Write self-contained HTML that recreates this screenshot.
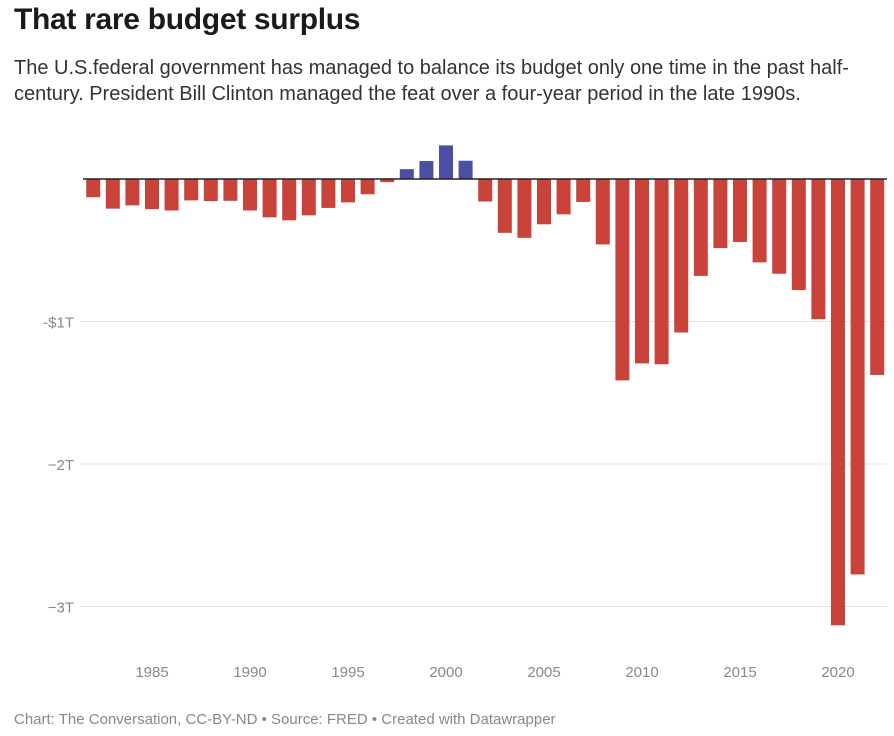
<!DOCTYPE html>
<html><head><meta charset="utf-8"><style>
body{margin:0;background:#fff;width:894px;height:736px;overflow:hidden;font-family:"Liberation Sans",sans-serif;}
#title{position:absolute;left:14px;top:3px;font-size:30px;font-weight:bold;color:#1a1a1a;letter-spacing:-0.3px;}
#sub{position:absolute;left:14px;top:55px;width:872px;font-size:20px;line-height:26px;color:#333;}
#foot{position:absolute;left:14px;top:711px;font-size:15px;color:#888;}
svg{position:absolute;left:0;top:0;}
</style></head><body>
<div id="title">That rare budget surplus</div>
<div id="sub">The U.S.federal government has managed to balance its budget only one time in the past half-century. President Bill Clinton managed the feat over a four-year period in the late 1990s.</div>
<svg id="chart" width="894" height="736"></svg>
<div id="foot">Chart: The Conversation, CC-BY-ND • Source: FRED • Created with Datawrapper</div>
<script>
const years=[1982,1983,1984,1985,1986,1987,1988,1989,1990,1991,1992,1993,1994,1995,1996,1997,1998,1999,2000,2001,2002,2003,2004,2005,2006,2007,2008,2009,2010,2011,2012,2013,2014,2015,2016,2017,2018,2019,2020,2021,2022];
const balance=[-0.128,-0.208,-0.185,-0.212,-0.221,-0.150,-0.155,-0.153,-0.221,-0.269,-0.290,-0.255,-0.203,-0.164,-0.107,-0.022,0.069,0.126,0.236,0.128,-0.158,-0.378,-0.413,-0.318,-0.248,-0.161,-0.459,-1.413,-1.294,-1.300,-1.077,-0.680,-0.485,-0.442,-0.585,-0.665,-0.779,-0.984,-3.132,-2.775,-1.375];
const yTicks=[-1,-2,-3];
const yTickLabels=["-$1T","\u22122T","\u22123T"];
const xTicks=[1985,1990,1995,2000,2005,2010,2015,2020];
const NS="http://www.w3.org/2000/svg";
const svg=document.getElementById('chart');
const x=y=>93.2+(y-1982)*19.6;
const yS=v=>179-v*142.5;
function mk(t,a){const e=document.createElementNS(NS,t);for(const k in a)e.setAttribute(k,a[k]);svg.appendChild(e);return e;}
yTicks.forEach((t,i)=>{
  const g=mk('line',{x1:80,x2:887,y1:yS(t),y2:yS(t),stroke:'#e2e2e2','stroke-width':1});
  
  
  const l=mk('text',{x:74,y:yS(t)+6,'text-anchor':'end','font-size':15,fill:'#888'});
  l.textContent=yTickLabels[i];
  
  
});
years.forEach((yr,i)=>{
  const v=balance[i];
  const top=v>0?yS(v):yS(0), h=Math.abs(yS(v)-yS(0));
  const r=mk('rect',{x:x(yr)-7,y:top,width:14,height:h,fill:v>0?'#4b4fa3':'#c9433a'});
  
  
});
const z=mk('line',{x1:83,x2:887,y1:yS(0),y2:yS(0),stroke:'#222','stroke-width':1.5});


xTicks.forEach(t=>{
  const l=mk('text',{x:x(t),y:677,'text-anchor':'middle','font-size':15,fill:'#888'});
  l.textContent=t;
  
  
});
</script>
</body></html>
